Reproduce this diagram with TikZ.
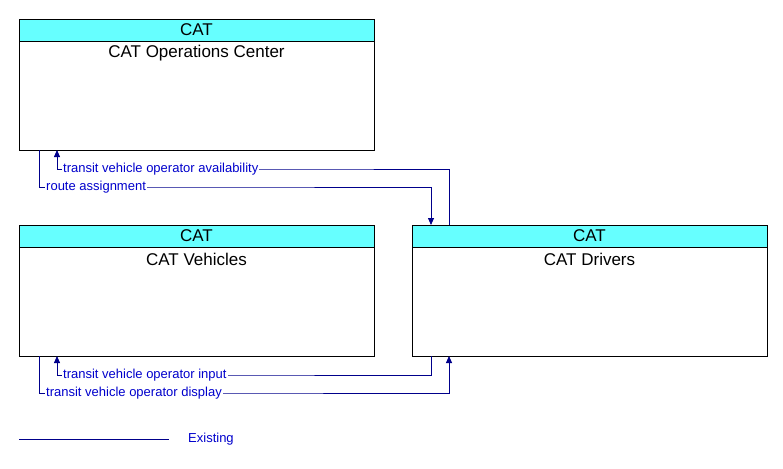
\documentclass[tikz,border=0pt]{standalone}
\usepackage{fontspec}
\setmainfont{Liberation Sans}
\usetikzlibrary{arrows.meta}
\definecolor{hcyan}{HTML}{66FFFF}
\definecolor{fblue}{HTML}{00008B}
\definecolor{tblue}{HTML}{0000CC}
\begin{document}
\begin{tikzpicture}[x=1pt,y=-1pt,
  hdr/.style={draw=black,fill=hcyan,line width=0.8pt},
  body/.style={draw=black,fill=white,line width=0.8pt},
  title/.style={font=\fontsize{17}{19}\selectfont,anchor=center},
  flow/.style={draw=fblue,line width=0.8pt},
  arr/.style={flow,-{Triangle[length=7pt,width=6pt]}},
  lbl/.style={font=\fontsize{13}{15}\selectfont,text=tblue,anchor=west,inner sep=1pt,fill=white}]
\useasboundingbox (0,0) rectangle (783,468);
% boxes
\foreach \n/\x/\y/\t in {ops/19/19/CAT Operations Center, veh/19/225/CAT Vehicles, drv/412/225/CAT Drivers}{
  \draw[body] (\x,\y) rectangle ++(355,131);
  \draw[hdr] (\x,\y) rectangle ++(355,22);
  \node[title] at (\x+177.5,\y+11) {CAT};
  \node[title] at (\x+177.5,\y+34) {\t};
}
\coordinate (opsB1) at (57,150); \coordinate (opsB2) at (39,150);
\coordinate (drvT1) at (449,225); \coordinate (drvT2) at (431,225);
\coordinate (vehB1) at (57,356); \coordinate (vehB2) at (39,356);
\coordinate (drvB1) at (431,356); \coordinate (drvB2) at (449,356);
\draw[arr] (drvT1) |- (300,169) -- (57,169) -- (opsB1);
\node[lbl] at (62,169) {transit vehicle operator availability};
\draw[arr] (opsB2) |- (200,187) -| (drvT2);
\node[lbl] at (45,187) {route assignment};
\draw[arr] (drvB1) |- (200,375) -| (vehB1);
\node[lbl] at (62,375) {transit vehicle operator input};
\draw[arr] (vehB2) |- (200,393) -| (drvB2);
\node[lbl] at (45,393) {transit vehicle operator display};
% legend
\coordinate (l1) at (19,439); \coordinate (l2) at (169,439);
\draw[flow] (l1) -- (l2);
\node[lbl,fill=none] at (187,439) {Existing};
\end{tikzpicture}
\end{document}
